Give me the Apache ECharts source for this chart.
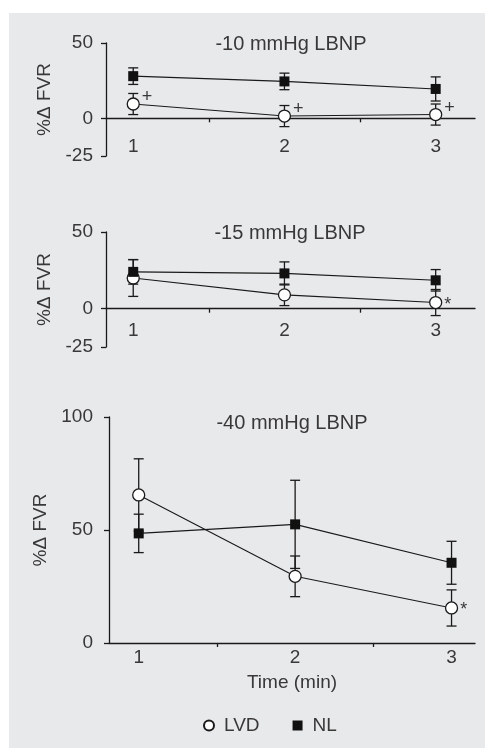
<!DOCTYPE html>
<html>
<head>
<meta charset="utf-8">
<script src="https://cdn.jsdelivr.net/npm/echarts@6/dist/echarts.min.js"></script>
<style>
  html, body { margin: 0; padding: 0; background: #fff; }
  #chart { width: 485px; height: 749px; }
</style>
</head>
<body>
<div id="chart"></div>
<script>
// time points (min)
const times = [1, 2, 3];

// -10 mmHg LBNP
const lvd10 = [9.5, 1.5, 2.5];
const lvd10Err = [7, 7, 7];
const nl10 = [28, 24.5, 19.5];
const nl10Err = [5.5, 5.5, 8];
const marks10 = ["+", "+", "+"];

// -15 mmHg LBNP
const lvd15 = [20, 9, 4];
const lvd15Err = [12, 7, 8.5];
const nl15 = [24, 23, 18.5];
const nl15Err = [8, 7.5, 7];
const marks15 = ["", "", "*"];

// -40 mmHg LBNP
const lvd40 = [65.5, 29.5, 15.5];
const lvd40Err = [16, 9, 8];
const nl40 = [48.5, 52.5, 35.5];
const nl40Err = [8.5, 19.5, 9.5];
const marks40 = ["", "", "*"];

const titles = ["-10 mmHg LBNP", "-15 mmHg LBNP", "-40 mmHg LBNP"];
const yTicksSmall = [-25, 0, 50];
const yTicksBig = [0, 50, 100];
const xTickLabels = [1, 2, 3];
const xTickMarks = [1.5, 2.5];

const ink = "#1a1a1a";
const txt = "#383838";
const font = "Liberation Sans";

var chart = echarts.init(document.getElementById("chart"));

function renderErr(params, api) {
  var x = api.value(0);
  var lo = api.coord([x, api.value(1)]);
  var hi = api.coord([x, api.value(2)]);
  var w = 5;
  var st = { stroke: ink, lineWidth: 1.3 };
  return {
    type: "group",
    children: [
      { type: "line", shape: { x1: lo[0], y1: lo[1], x2: hi[0], y2: hi[1] }, style: st },
      { type: "line", shape: { x1: lo[0] - w, y1: lo[1], x2: lo[0] + w, y2: lo[1] }, style: st },
      { type: "line", shape: { x1: hi[0] - w, y1: hi[1], x2: hi[0] + w, y2: hi[1] }, style: st }
    ]
  };
}

function errData(vals, errs) {
  return times.map((t, i) => [t, vals[i] - errs[i], vals[i] + errs[i]]);
}

function panelSeries(idx, lvd, lvdErr, nl, nlErr, marks) {
  return [
    {
      type: "custom", xAxisIndex: idx, yAxisIndex: idx, z: 1,
      renderItem: renderErr, data: errData(nl, nlErr), silent: true
    },
    {
      type: "custom", xAxisIndex: idx, yAxisIndex: idx, z: 1,
      renderItem: renderErr, data: errData(lvd, lvdErr), silent: true
    },
    {
      name: "LVD", type: "line", xAxisIndex: idx, yAxisIndex: idx, z: 2,
      symbol: "circle", symbolSize: 12,
      itemStyle: { color: "#fff", borderColor: ink, borderWidth: 1.3 },
      lineStyle: { color: ink, width: 1.1 },
      data: times.map((t, i) => ({
        value: [t, lvd[i]],
        label: {
          show: marks[i] !== "",
          formatter: marks[i],
          position: "right",
          distance: 2,
          offset: marks[i] === "*" ? [0, 2] : [0, -7],
          fontSize: 18, color: txt, fontFamily: font
        }
      }))
    },
    {
      name: "NL", type: "line", xAxisIndex: idx, yAxisIndex: idx, z: 3,
      symbol: "rect", symbolSize: 10,
      itemStyle: { color: "#111" },
      lineStyle: { color: ink, width: 1.1 },
      data: times.map((t, i) => [t, nl[i]])
    }
  ];
}

const grids = [
  { left: 106, top: 43, width: 369, height: 113 },
  { left: 106, top: 232, width: 369, height: 115 },
  { left: 109, top: 417, width: 366, height: 226 }
];
const xRange = [[0.82, 3.26], [0.82, 3.26], [0.81, 3.15]];
// the x axis of the top two panels sits at y = 0, a third of the way up
const xOffset = [-37.7, -38.3, 0];
const xLabelMargin = [19, 13, 5];
const yNameGap = [50, 50, 55];
const yLabelMargin = [13, 13, 16];

var xAxes = grids.map((g, i) => ({
  type: "value", gridIndex: i,
  min: xRange[i][0], max: xRange[i][1],
  offset: xOffset[i],
  axisLine: { show: true, onZero: false, lineStyle: { color: ink, width: 1.3 } },
  axisTick: { show: true, customValues: xTickMarks, length: 4, lineStyle: { color: ink, width: 1.3 } },
  axisLabel: { customValues: xTickLabels, margin: xLabelMargin[i], fontSize: 19, color: txt, fontFamily: font },
  splitLine: { show: false },
  name: i === 2 ? "Time (min)" : "",
  nameLocation: "middle", nameGap: 30,
  nameTextStyle: { fontSize: 19, color: txt, fontFamily: font }
}));

var yAxes = grids.map((g, i) => ({
  type: "value", gridIndex: i,
  min: i === 2 ? 0 : -25, max: i === 2 ? 100 : 50,
  axisLine: { show: true, onZero: false, lineStyle: { color: ink, width: 1.3 } },
  axisTick: { show: true, customValues: i === 2 ? yTicksBig : yTicksSmall, length: 5, lineStyle: { color: ink, width: 1.3 } },
  axisLabel: { customValues: i === 2 ? yTicksBig : yTicksSmall, margin: yLabelMargin[i], fontSize: 19, color: txt, fontFamily: font },
  splitLine: { show: false },
  name: "%\u0394 FVR",
  nameLocation: "middle", nameGap: yNameGap[i], nameRotate: 90,
  nameTextStyle: { fontSize: 19, color: txt, fontFamily: font }
}));

var option = {
  animation: false,
  backgroundColor: "#fff",
  graphic: [{
    type: "rect", z: -10, silent: true,
    shape: { x: 9, y: 13, width: 476, height: 735 },
    style: { fill: "#e8e9eb" }
  }],
  title: titles.map((t, i) => ({
    text: t,
    left: [291, 290, 292][i], top: [34, 223, 413][i],
    textAlign: "center", padding: 0,
    textStyle: { fontSize: 20, fontWeight: "normal", color: txt, fontFamily: font }
  })),
  legend: {
    data: [{ name: "LVD", icon: "circle" }, { name: "NL", icon: "rect" }],
    left: 198, top: 711,
    itemWidth: 10, itemHeight: 10, itemGap: 33,
    textStyle: { fontSize: 19, color: txt, fontFamily: font, padding: [0, 0, 0, 5] }
  },
  grid: grids,
  xAxis: xAxes,
  yAxis: yAxes,
  series: [].concat(
    panelSeries(0, lvd10, lvd10Err, nl10, nl10Err, marks10),
    panelSeries(1, lvd15, lvd15Err, nl15, nl15Err, marks15),
    panelSeries(2, lvd40, lvd40Err, nl40, nl40Err, marks40)
  )
};

chart.setOption(option);
</script>
</body>
</html>
